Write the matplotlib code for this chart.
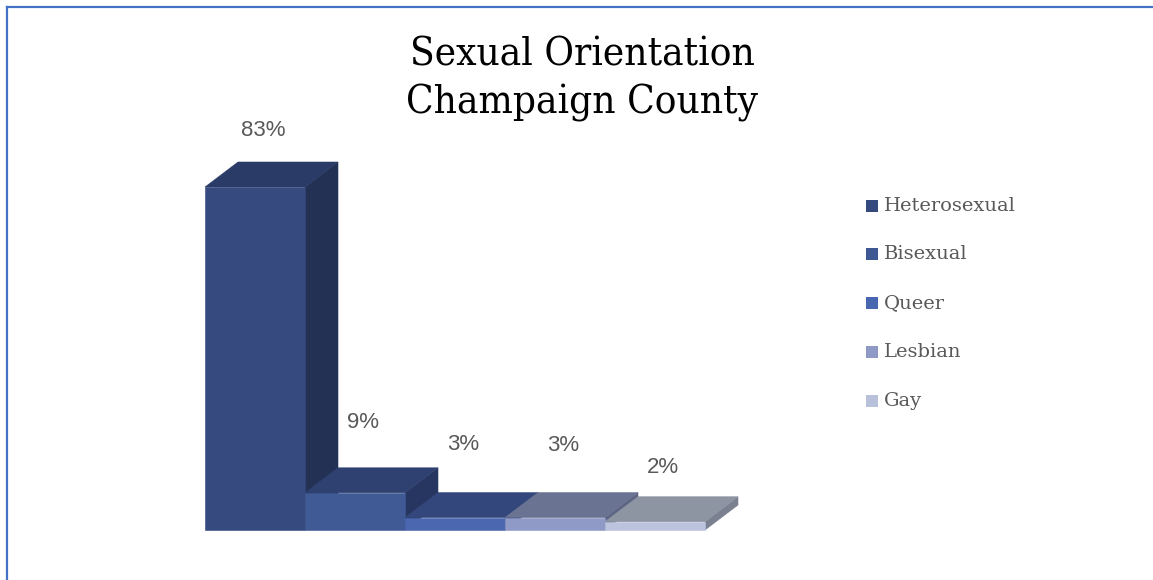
import matplotlib.pyplot as plt
from matplotlib.patches import Polygon, Rectangle
from matplotlib.lines import Line2D

categories = ['Heterosexual', 'Bisexual', 'Queer', 'Lesbian', 'Gay']
values = [83, 9, 3, 3, 2]
labels = ['83%', '9%', '3%', '3%', '2%']

# front / top / side shades for each bar
front_colors = ['#374a80', '#405a96', '#4a67b0', '#8f9ac6', '#bcc3dc']
top_colors = ['#2b3b68', '#2f4170', '#33477c', '#6b7392', '#8e95a2']
side_colors = ['#233254', '#263660', '#2a3b6a', '#5d6584', '#7a8090']
legend_colors = ['#34497e', '#3e5894', '#4866b0', '#8e9ac4', '#b9c0da']

W, H = 1153, 580
fig = plt.figure(figsize=(W / 100, H / 100), dpi=100)
fig.patch.set_facecolor('white')

# plot area: x in bar units (0..5), y in percent (0..83)
x0, x1 = 205, 705
y_base, y_top = 530, 187
ax = fig.add_axes([x0 / W, (H - y_base) / H, (x1 - x0) / W, (y_base - y_top) / H])
ax.set_xlim(0, 5)
ax.set_ylim(0, 83)
ax.axis('off')

dx = 33 / 100          # depth in bar units
dy = 25 / (343 / 83)   # depth in percent units

for i, v in enumerate(values):
    l, r = i, i + 1
    front = Rectangle((l, 0), 1, v, facecolor=front_colors[i], edgecolor=front_colors[i],
                      lw=0.4, clip_on=False)
    top = Polygon([(l, v), (r, v), (r + dx, v + dy), (l + dx, v + dy)],
                  facecolor=top_colors[i], edgecolor=top_colors[i], lw=0.4, clip_on=False)
    side = Polygon([(r, 0), (r + dx, dy), (r + dx, v + dy), (r, v)],
                   facecolor=side_colors[i], edgecolor=side_colors[i], lw=0.4, clip_on=False)
    ax.add_patch(side)
    ax.add_patch(top)
    ax.add_patch(front)

# data labels above each bar
label_dy = [32, 45, 48, 47, 29]
for i, v in enumerate(values):
    ax.annotate(labels[i], (i + 0.5, v + dy), xytext=(8, label_dy[i]),
                textcoords='offset pixels', ha='center', va='center',
                fontsize=16, color='#595959', family='Liberation Sans',
                annotation_clip=False)

title_font = dict(ha='center', va='center', fontsize=29, family='DejaVu Serif',
                  stretch='condensed', color='black')
fig.text(582 / W, 1 - 55 / H, 'Sexual Orientation', **title_font)
fig.text(582 / W, 1 - 103 / H, 'Champaign County', **title_font)

# legend
rows = [206, 254, 303, 352, 401]
for c, name, yy in zip(legend_colors, categories, rows):
    fig.patches.append(Rectangle((866 / W, 1 - (yy + 6) / H), 12 / W, 12 / H,
                                 facecolor=c, edgecolor='none', transform=fig.transFigure))
    fig.text(884 / W, 1 - yy / H, name, ha='left', va='center',
             fontsize=14, family='DejaVu Serif', color='#595959')

# frame lines on top and left
fig.add_artist(Line2D([6.5 / W, 1], [1 - 6.5 / H, 1 - 6.5 / H], color='#4472c4', lw=1.6))
fig.add_artist(Line2D([6.5 / W, 6.5 / W], [0, 1 - 6.5 / H], color='#4472c4', lw=1.6))

fig.savefig('out.png', dpi=100)
